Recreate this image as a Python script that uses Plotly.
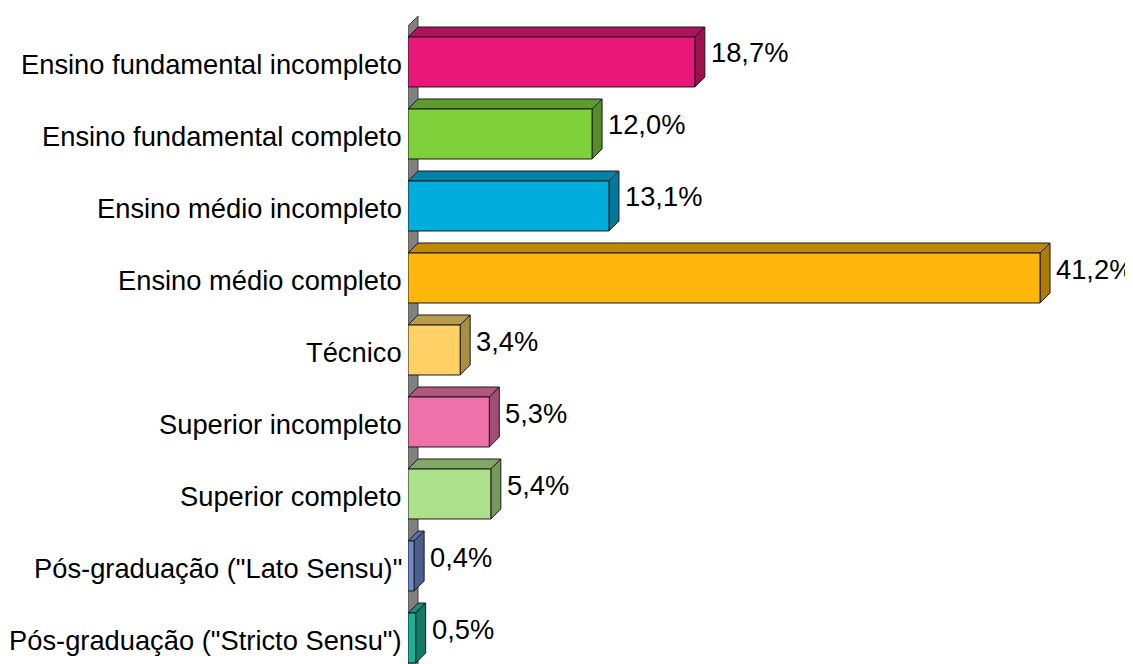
import plotly.graph_objects as go

categories = [
    "Ensino fundamental incompleto",
    "Ensino fundamental completo",
    "Ensino médio incompleto",
    "Ensino médio completo",
    "Técnico",
    "Superior incompleto",
    "Superior completo",
    "Pós-graduação (\"Lato Sensu)\"",
    "Pós-graduação (\"Stricto Sensu\")",
]
values = [18.7, 12.0, 13.1, 41.2, 3.4, 5.3, 5.4, 0.4, 0.5]
value_labels = ["18,7%", "12,0%", "13,1%", "41,2%", "3,4%", "5,3%", "5,4%", "0,4%", "0,5%"]

front_colors = ["#E9177A", "#7FD13B", "#00ADDC", "#FFB60A", "#FFD066",
                "#EE72A9", "#ADE08A", "#6E88C8", "#1AB39A"]
top_colors = ["#B0135E", "#5E9A2C", "#0081A5", "#BF8908", "#B89C4D",
              "#B3567F", "#82A868", "#5A6FA6", "#168F7B"]
side_colors = ["#A0104F", "#558C27", "#00799B", "#AD7C07", "#A88D45",
               "#A24D73", "#76995E", "#4B5E8E", "#147A68"]

# geometry (style)
H = 0.347       # half bar thickness (category units)
DX = 0.652      # depth offset in value units
DY = 0.139      # depth offset in category units
OUTLINE = "#1a1a1a"
FONT = "Liberation Sans, Arial, sans-serif"
FS = 27.3

fig = go.Figure()

n = len(categories)
# back wall
fig.add_trace(go.Scatter(
    x=[0, DX, DX, 0, 0],
    y=[-0.5, -0.5 - DY, n - 0.5 - DY, n - 0.5, -0.5],
    mode="lines", fill="toself", fillcolor="#808080",
    line=dict(color="#404040", width=1), hoverinfo="skip", showlegend=False))

for i, (v, fc, tc, sc) in enumerate(zip(values, front_colors, top_colors, side_colors)):
    top = i - H
    bot = i + H
    fig.add_trace(go.Scatter(
        x=[0, v, v + DX, DX, 0],
        y=[top, top, top - DY, top - DY, top],
        mode="lines", fill="toself", fillcolor=tc,
        line=dict(color=OUTLINE, width=1), hoverinfo="skip", showlegend=False))
    fig.add_trace(go.Scatter(
        x=[v, v + DX, v + DX, v, v],
        y=[top, top - DY, bot - DY, bot, top],
        mode="lines", fill="toself", fillcolor=sc,
        line=dict(color=OUTLINE, width=1), hoverinfo="skip", showlegend=False))
    fig.add_trace(go.Scatter(
        x=[0, v, v, 0, 0],
        y=[top, top, bot, bot, top],
        mode="lines", fill="toself", fillcolor=fc,
        line=dict(color=OUTLINE, width=1), hoverinfo="skip", showlegend=False))

annotations = []
for i, (v, t) in enumerate(zip(values, value_labels)):
    annotations.append(dict(
        x=v + DX, y=i - DY, xref="x", yref="y", text=t, showarrow=False,
        xanchor="left", yanchor="middle", xshift=4, yshift=-1,
        font=dict(family=FONT, size=FS, color="black")))
for i, c in enumerate(categories):
    annotations.append(dict(
        x=0, y=i, xref="x", yref="y", text=c, showarrow=False,
        xanchor="right", yanchor="middle", xshift=-4, yshift=-2,
        font=dict(family=FONT, size=FS, color="black")))

fig.update_layout(
    width=1125, height=656,
    margin=dict(l=400, r=0, t=0, b=0),
    paper_bgcolor="white", plot_bgcolor="white",
    font=dict(family=FONT, size=FS, color="black"),
    xaxis=dict(range=[0, 47.26], visible=False, showgrid=False, zeroline=False),
    yaxis=dict(range=[8.361, -0.75], visible=False,
               showgrid=False, zeroline=False),
    annotations=annotations,
)

fig.write_html("out.html")
